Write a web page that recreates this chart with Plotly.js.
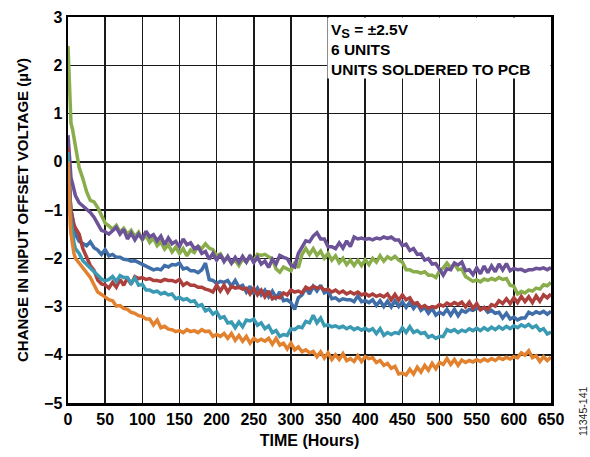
<!DOCTYPE html>
<html>
<head>
<meta charset="utf-8">
<script src="https://cdn.plot.ly/plotly-3.0.1.min.js"></script>
<style>html,body{margin:0;padding:0;background:#fff;}</style>
</head>
<body>
<div id="chart" style="width:590px;height:457px;"></div>
<script>
const hours = [0,1,2,3,4,6,8,10,
15,20,25,30,35,40,45,50,55,60,
65,70,75,80,85,90,95,100,105,110,
115,120,125,130,135,140,145,150,155,160,
165,170,175,180,185,190,195,200,205,210,
215,220,225,230,235,240,245,250,255,260,
265,270,275,280,285,290,295,300,305,310,
315,320,325,330,335,340,345,350,355,360,
365,370,375,380,385,390,395,400,405,410,
415,420,425,430,435,440,445,450,455,460,
465,470,475,480,485,490,495,500,505,510,
515,520,525,530,535,540,545,550,555,560,
565,570,575,580,585,590,595,600,605,610,
615,620,625,630,635,640,645,650];

const unitGreen = [2.4,2.0,1.5,1.1,0.8,0.68,0.52,0.3,
-0.12,-0.35,-0.62,-0.8,-0.83,-0.95,-1.1,-1.27,-1.33,-1.4,
-1.32,-1.46,-1.38,-1.5,-1.42,-1.55,-1.46,-1.62,-1.53,-1.67,
-1.58,-1.74,-1.66,-1.81,-1.72,-1.87,-1.77,-1.9,-1.8,-1.95,
-1.83,-1.88,-1.75,-1.8,-1.7,-1.79,-1.82,-1.95,-1.91,-2.04,
-2.0,-2.1,-2.04,-2.15,-2.02,-2.08,-1.96,-2.06,-1.92,-1.94,
-1.92,-1.97,-2.02,-2.22,-2.29,-2.18,-2.22,-2.26,-2.08,-2.2,
-1.92,-1.8,-1.92,-1.8,-1.94,-1.85,-2.0,-1.9,-2.04,-1.95,
-2.09,-2.0,-2.13,-2.04,-2.15,-2.04,-2.15,-2.03,-2.13,-2.0,
-2.08,-1.95,-2.06,-1.97,-2.02,-1.96,-2.04,-2.08,-2.24,-2.24,
-2.28,-2.28,-2.31,-2.28,-2.35,-2.35,-2.4,-2.26,-2.2,-2.1,
-2.2,-2.11,-2.24,-2.22,-2.38,-2.43,-2.48,-2.45,-2.49,-2.43,
-2.46,-2.42,-2.45,-2.4,-2.44,-2.42,-2.56,-2.58,-2.74,-2.69,
-2.72,-2.66,-2.68,-2.62,-2.64,-2.55,-2.57,-2.5];

const unitPurple = [0.55,0.3,0.0,-0.2,-0.33,-0.45,-0.6,-0.7,
-0.85,-0.92,-1.0,-1.05,-1.15,-1.3,-1.42,-1.45,-1.5,-1.43,
-1.36,-1.5,-1.4,-1.6,-1.48,-1.62,-1.5,-1.6,-1.44,-1.56,
-1.51,-1.64,-1.54,-1.72,-1.58,-1.7,-1.65,-1.76,-1.6,-1.72,
-1.68,-1.8,-1.76,-1.9,-1.86,-2.02,-1.9,-2.04,-1.92,-2.07,
-1.96,-2.1,-1.98,-2.09,-1.96,-2.08,-1.94,-2.09,-1.98,-2.12,
-2.06,-2.19,-2.02,-2.12,-1.94,-1.98,-2.01,-2.14,-2.18,-1.9,
-1.78,-1.64,-1.66,-1.54,-1.47,-1.6,-1.6,-1.76,-1.76,-1.8,
-1.68,-1.79,-1.64,-1.76,-1.56,-1.6,-1.58,-1.61,-1.59,-1.62,
-1.58,-1.6,-1.56,-1.59,-1.56,-1.62,-1.62,-1.74,-1.71,-1.84,
-1.8,-1.92,-1.91,-2.04,-2.01,-2.12,-2.11,-2.24,-2.35,-2.22,
-2.24,-2.1,-2.14,-2.08,-2.26,-2.24,-2.34,-2.2,-2.32,-2.16,
-2.3,-2.16,-2.28,-2.12,-2.24,-2.11,-2.26,-2.21,-2.24,-2.23,
-2.27,-2.24,-2.24,-2.21,-2.22,-2.2,-2.24,-2.19];

const unitBlue = [0.2,-0.3,-0.6,-0.8,-1.0,-1.2,-1.4,-1.5,
-1.65,-1.7,-1.74,-1.66,-1.78,-1.83,-1.92,-1.82,-1.95,-1.92,
-1.98,-1.98,-2.02,-2.03,-2.06,-2.05,-2.09,-2.12,-2.16,-2.19,
-2.24,-2.22,-2.24,-2.15,-2.18,-2.13,-2.14,-2.1,-2.22,-2.2,
-2.26,-2.26,-2.3,-2.24,-2.1,-2.44,-2.46,-2.52,-2.48,-2.5,
-2.46,-2.58,-2.46,-2.6,-2.56,-2.7,-2.58,-2.74,-2.62,-2.76,
-2.66,-2.8,-2.68,-2.82,-2.7,-2.88,-2.86,-2.92,-3.06,-2.82,
-2.76,-2.62,-2.74,-2.58,-2.68,-2.56,-2.72,-2.68,-2.84,-2.82,
-2.88,-2.84,-2.86,-2.86,-2.9,-2.78,-2.9,-2.88,-2.92,-2.86,
-2.98,-2.88,-3.0,-2.89,-3.01,-2.88,-3.0,-2.9,-3.02,-2.91,
-3.04,-2.94,-3.08,-3.02,-3.14,-3.04,-3.18,-3.12,-3.16,-3.06,
-3.18,-3.06,-3.19,-3.08,-3.12,-3.06,-3.08,-3.03,-3.06,-3.02,
-3.12,-3.08,-3.14,-3.12,-3.24,-3.14,-3.26,-3.22,-3.28,-3.24,
-3.24,-3.12,-3.16,-3.11,-3.14,-3.1,-3.16,-3.1];

const unitRed = [0.3,-0.2,-0.5,-0.8,-1.0,-1.2,-1.3,-1.37,
-1.5,-1.8,-2.0,-2.15,-2.25,-2.45,-2.53,-2.55,-2.62,-2.5,
-2.6,-2.44,-2.56,-2.41,-2.54,-2.38,-2.42,-2.4,-2.44,-2.42,
-2.46,-2.46,-2.48,-2.44,-2.46,-2.46,-2.49,-2.44,-2.56,-2.51,
-2.56,-2.56,-2.6,-2.6,-2.64,-2.66,-2.7,-2.56,-2.68,-2.56,
-2.7,-2.58,-2.62,-2.6,-2.64,-2.62,-2.74,-2.62,-2.76,-2.66,
-2.8,-2.68,-2.84,-2.8,-2.82,-2.72,-2.76,-2.66,-2.7,-2.68,
-2.72,-2.6,-2.64,-2.58,-2.62,-2.6,-2.66,-2.64,-2.7,-2.66,
-2.72,-2.68,-2.74,-2.7,-2.74,-2.7,-2.76,-2.73,-2.78,-2.74,
-2.79,-2.76,-2.8,-2.74,-2.86,-2.75,-2.87,-2.76,-2.86,-2.82,
-2.94,-2.92,-3.02,-2.98,-3.04,-3.0,-3.02,-2.96,-2.99,-2.93,
-2.97,-2.92,-2.96,-2.91,-3.01,-2.91,-3.04,-2.94,-3.07,-3.02,
-3.06,-2.96,-2.99,-2.88,-2.94,-2.84,-2.94,-2.82,-2.92,-2.79,
-2.9,-2.8,-2.92,-2.78,-2.89,-2.76,-2.82,-2.74];

const unitCyan = [0.2,-0.3,-0.7,-1.0,-1.2,-1.5,-1.68,-1.8,
-1.9,-2.05,-2.12,-2.2,-2.26,-2.35,-2.43,-2.47,-2.44,-2.38,
-2.48,-2.36,-2.4,-2.4,-2.52,-2.41,-2.56,-2.54,-2.66,-2.66,
-2.7,-2.68,-2.74,-2.71,-2.76,-2.74,-2.84,-2.81,-2.86,-2.84,
-2.9,-2.88,-2.99,-2.96,-3.09,-3.05,-3.16,-3.11,-3.24,-3.21,
-3.34,-3.32,-3.44,-3.32,-3.42,-3.28,-3.3,-3.26,-3.39,-3.34,
-3.46,-3.4,-3.54,-3.5,-3.62,-3.58,-3.6,-3.46,-3.48,-3.42,
-3.44,-3.31,-3.34,-3.18,-3.34,-3.24,-3.4,-3.38,-3.42,-3.4,
-3.44,-3.41,-3.46,-3.42,-3.48,-3.44,-3.49,-3.45,-3.5,-3.46,
-3.56,-3.46,-3.6,-3.54,-3.58,-3.54,-3.56,-3.44,-3.54,-3.42,
-3.54,-3.5,-3.56,-3.54,-3.64,-3.6,-3.66,-3.62,-3.62,-3.48,
-3.52,-3.48,-3.54,-3.49,-3.52,-3.46,-3.5,-3.45,-3.5,-3.44,
-3.49,-3.43,-3.48,-3.42,-3.47,-3.41,-3.46,-3.4,-3.44,-3.38,
-3.42,-3.37,-3.44,-3.4,-3.5,-3.46,-3.57,-3.53];

const unitOrange = [0.0,-0.6,-1.0,-1.3,-1.5,-1.75,-1.9,-2.0,
-2.1,-2.2,-2.3,-2.4,-2.55,-2.7,-2.75,-2.8,-2.86,-2.88,
-2.99,-2.98,-3.04,-3.06,-3.12,-3.14,-3.19,-3.2,-3.26,-3.26,
-3.38,-3.28,-3.44,-3.41,-3.47,-3.48,-3.52,-3.5,-3.54,-3.48,
-3.52,-3.5,-3.54,-3.48,-3.52,-3.51,-3.62,-3.58,-3.62,-3.56,
-3.66,-3.56,-3.7,-3.6,-3.72,-3.62,-3.76,-3.66,-3.72,-3.68,
-3.72,-3.66,-3.78,-3.66,-3.8,-3.76,-3.88,-3.76,-3.9,-3.84,
-3.94,-3.9,-3.96,-3.93,-4.04,-3.94,-4.07,-3.96,-4.1,-4.0,
-4.1,-3.98,-4.12,-4.08,-4.14,-4.02,-4.14,-4.04,-4.08,-4.06,
-4.16,-4.12,-4.22,-4.18,-4.28,-4.24,-4.4,-4.38,-4.42,-4.3,
-4.4,-4.26,-4.36,-4.22,-4.32,-4.18,-4.29,-4.16,-4.2,-4.08,
-4.2,-4.1,-4.22,-4.11,-4.16,-4.12,-4.15,-4.1,-4.14,-4.09,
-4.13,-4.08,-4.12,-4.06,-4.1,-4.05,-4.09,-4.04,-4.06,-3.96,
-4.01,-3.92,-4.06,-4.02,-4.14,-4.04,-4.12,-4.05];

const seriesList = [
  {y: unitGreen, color: '#8aad4c'},
  {y: unitPurple, color: '#6c5297'},
  {y: unitBlue, color: '#3f6ea9'},
  {y: unitRed, color: '#ad403d'},
  {y: unitCyan, color: '#3b9ab3'},
  {y: unitOrange, color: '#e2822f'}
];

const FONT = 'Liberation Sans, Arial, sans-serif';

const traces = seriesList.map(s => ({
  x: hours, y: s.y, type: 'scatter', mode: 'lines',
  line: {color: s.color, width: 3.5},
  hoverinfo: 'skip', showlegend: false
}));

const layout = {
  width: 590, height: 457,
  margin: {l: 68, r: 39, t: 17, b: 54},
  paper_bgcolor: '#fff', plot_bgcolor: '#fff',
  font: {family: FONT, color: '#000', size: 16},
  showlegend: false,
  xaxis: {
    range: [0, 650], tick0: 0, dtick: 50,
    showgrid: true, gridcolor: '#1a1a1a', gridwidth: 1.5,
    zeroline: false, showline: true, linecolor: '#000', linewidth: 2.5, mirror: true,
    ticks: '', tickfont: {family: FONT, size: 16, weight: 'bold'},
    title: {text: '<b>TIME (Hours)</b>', font: {family: FONT, size: 16}, standoff: 8}
  },
  yaxis: {
    range: [-5, 3], tick0: -5, dtick: 1,
    showgrid: true, gridcolor: '#1a1a1a', gridwidth: 1.5,
    zeroline: false, showline: true, linecolor: '#000', linewidth: 2.5, mirror: true,
    ticks: '', tickfont: {family: FONT, size: 16, weight: 'bold'}
  },
  annotations: [
    {
      xref: 'paper', yref: 'paper', x: -0.0952, y: 0.5, xanchor: 'center', yanchor: 'middle',
      showarrow: false, textangle: -90,
      text: '<b>CHANGE IN INPUT OFFSET VOLTAGE (µV)</b>',
      font: {family: FONT, size: 15, color: '#000'}
    },
    {
      xref: 'paper', yref: 'paper', x: 0.537, y: 1, xanchor: 'left', yanchor: 'top',
      align: 'left', valign: 'top', showarrow: false, bgcolor: '#fff', borderpad: 3,
      width: 216, height: 54,
      text: '<b>V<sub><span style="font-size:13px">S</span></sub> = ±2.5V<br>6 UNITS<br>UNITS SOLDERED TO PCB</b>',
      font: {family: FONT, size: 15.5, color: '#000'}
    },
    {
      xref: 'paper', yref: 'paper', x: 1.065, y: -0.02, xanchor: 'center', yanchor: 'middle',
      showarrow: false, textangle: -90, text: '11345-141',
      font: {family: FONT, size: 10.5, color: '#222'}
    }
  ]
};

Plotly.newPlot('chart', traces, layout, {displayModeBar: false, staticPlot: true});
</script>
</body>
</html>
